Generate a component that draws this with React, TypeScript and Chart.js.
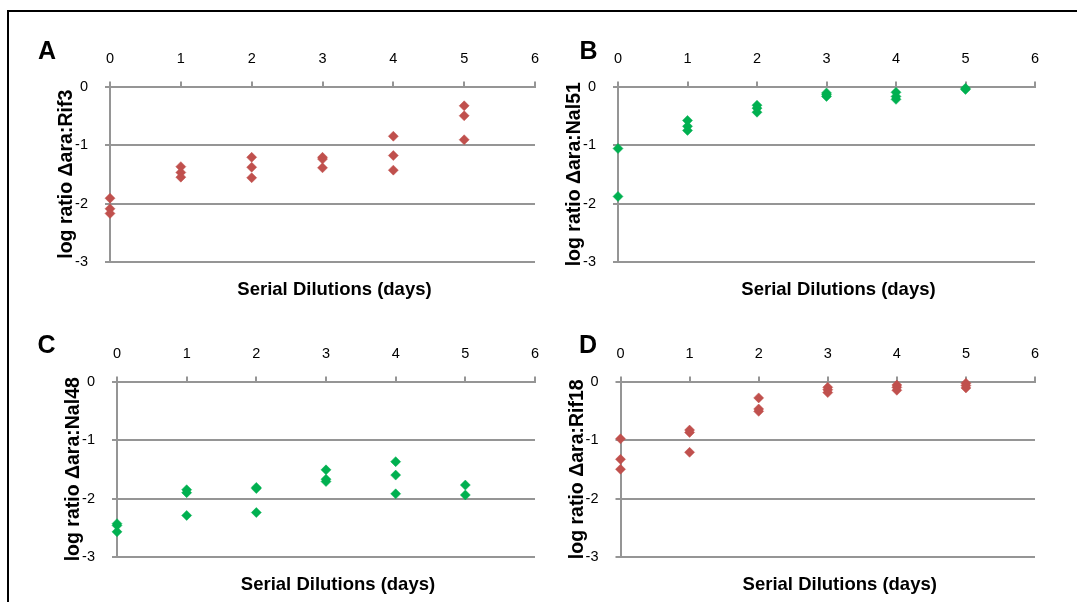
import React, { useEffect, useRef } from "react";
import { Chart, registerables } from "chart.js";

Chart.register(...registerables);

// ---- data ----
const days = [0, 1, 2, 3, 4, 5];
const xTitle = "Serial Dilutions (days)";
const panelLetters = ["A", "B", "C", "D"];
const yTitles = [
  "log ratio Δara:Rif3",
  "log ratio Δara:Nal51",
  "log ratio Δara:Nal48",
  "log ratio Δara:Rif18",
];

const rif3 = [
  [-1.91, -2.09, -2.17],
  [-1.37, -1.47, -1.55],
  [-1.21, -1.38, -1.56],
  [-1.21, -1.24, -1.39],
  [-0.85, -1.18, -1.43],
  [-0.33, -0.5, -0.91],
];
const nal51 = [
  [-1.06, -1.88],
  [-0.58, -0.68, -0.75],
  [-0.32, -0.37, -0.44],
  [-0.11, -0.14, -0.17],
  [-0.1, -0.17, -0.22],
  [-0.03, -0.05],
];
const nal48 = [
  [-2.43, -2.46, -2.57],
  [-1.85, -1.9, -2.29],
  [-1.81, -1.83, -2.24],
  [-1.51, -1.67, -1.71],
  [-1.37, -1.6, -1.92],
  [-1.77, -1.94],
];
const rif18 = [
  [-0.98, -1.33, -1.5],
  [-0.83, -0.87, -1.21],
  [-0.28, -0.47, -0.51],
  [-0.1, -0.14, -0.19],
  [-0.06, -0.1, -0.15],
  [-0.03, -0.07, -0.11],
];

const RED = "#C0504D";
const GREEN = "#00B050";
const GRID = "#959595";
const FAMILY = "'Liberation Sans', Arial, Helvetica, sans-serif";

type Box = { left: number; top: number; width: number; height: number };
type Plot = { left: number; top: number; right: number; bottom: number };
type PanelCfg = {
  letter: string;
  letterPos: [number, number];
  yTitle: string;
  values: number[][];
  color: string;
  box: Box;
  plot: Plot;
};

const panels: PanelCfg[] = [
  {
    letter: panelLetters[0],
    letterPos: [47, 52.5],
    yTitle: yTitles[0],
    values: rif3,
    color: RED,
    box: { left: 30, top: 30, width: 530, height: 275 },
    plot: { left: 110, top: 86.5, right: 535, bottom: 262 },
  },
  {
    letter: panelLetters[1],
    letterPos: [588.5, 52.5],
    yTitle: yTitles[1],
    values: nal51,
    color: GREEN,
    box: { left: 560, top: 30, width: 500, height: 275 },
    plot: { left: 618, top: 86.5, right: 1035, bottom: 262 },
  },
  {
    letter: panelLetters[2],
    letterPos: [46.5, 346],
    yTitle: yTitles[2],
    values: nal48,
    color: GREEN,
    box: { left: 30, top: 325, width: 530, height: 275 },
    plot: { left: 117, top: 381.5, right: 535, bottom: 557 },
  },
  {
    letter: panelLetters[3],
    letterPos: [588, 346],
    yTitle: yTitles[3],
    values: rif18,
    color: RED,
    box: { left: 560, top: 325, width: 500, height: 275 },
    plot: { left: 620.5, top: 381.5, right: 1035, bottom: 557 },
  },
];

const panelTextPlugin = {
  id: "panelText",
  afterDraw(chart: any, _args: any, opts: any) {
    const { ctx, chartArea } = chart;
    ctx.save();
    ctx.fillStyle = "#000";
    ctx.textAlign = "center";
    ctx.textBaseline = "middle";
    ctx.font = `bold 25px ${FAMILY}`;
    ctx.fillText(opts.letter, opts.letterX, opts.letterY);
    ctx.font = `bold 18.5px ${FAMILY}`;
    ctx.fillText(
      opts.xTitle,
      (chartArea.left + chartArea.right) / 2 + 12,
      chartArea.bottom + 27.5
    );
    ctx.restore();
  },
};

function Panel({ cfg }: { cfg: PanelCfg }) {
  const ref = useRef<HTMLCanvasElement>(null);
  useEffect(() => {
    const { box, plot } = cfg;
    const yW = plot.left - box.left;
    const xH = plot.top - box.top;
    const padR = box.left + box.width - plot.right;
    const padB = box.top + box.height - plot.bottom;
    const points = cfg.values.flatMap((vals, i) =>
      vals.map((v) => ({ x: days[i], y: v }))
    );
    const chart = new Chart(ref.current as HTMLCanvasElement, {
      type: "scatter",
      data: {
        datasets: [
          {
            data: points,
            pointStyle: "rectRot",
            pointRadius: 5,
            pointBorderWidth: 0.5,
            backgroundColor: cfg.color,
            borderColor: cfg.color,
            clip: false,
          } as any,
        ],
      },
      options: {
        responsive: false,
        animation: false,
        events: [],
        layout: { padding: { left: 0, top: 0, right: padR, bottom: padB } },
        plugins: {
          legend: { display: false },
          tooltip: { enabled: false },
          panelText: {
            letter: cfg.letter,
            letterX: cfg.letterPos[0] - box.left,
            letterY: cfg.letterPos[1] - box.top,
            xTitle,
          },
        } as any,
        scales: {
          x: {
            type: "linear",
            position: "top",
            min: 0,
            max: 6,
            afterFit: (s: any) => {
              s.height = xH;
            },
            ticks: {
              stepSize: 1,
              color: "#000",
              padding: 14,
              font: { family: FAMILY, size: 14.5 },
            },
            grid: {
              drawOnChartArea: false,
              color: GRID,
              lineWidth: 2,
              tickLength: 5,
            },
            border: { display: true, color: GRID, width: 2 },
          },
          y: {
            type: "linear",
            min: -3,
            max: 0,
            afterFit: (s: any) => {
              s.width = yW;
            },
            ticks: {
              stepSize: 1,
              color: "#000",
              padding: 17,
              font: { family: FAMILY, size: 14.5 },
            },
            grid: { color: GRID, lineWidth: 2, tickLength: 5 },
            border: { display: true, color: GRID, width: 2 },
            title: {
              display: true,
              text: cfg.yTitle,
              color: "#000",
              font: { family: FAMILY, size: 19.5, weight: "bold" },
              padding: { top: yW - 43 - 11.7, bottom: 0 },
            },
          },
        } as any,
      },
      plugins: [panelTextPlugin as any],
    });
    return () => chart.destroy();
  }, [cfg]);

  return (
    <canvas
      ref={ref}
      width={cfg.box.width}
      height={cfg.box.height}
      style={{
        position: "absolute",
        left: cfg.box.left,
        top: cfg.box.top,
        width: cfg.box.width,
        height: cfg.box.height,
      }}
    />
  );
}

export default function App() {
  return (
    <div
      style={{
        position: "fixed",
        left: 0,
        top: 0,
        width: 1077,
        height: 602,
        overflow: "hidden",
        background: "#fff",
      }}
    >
      <div
        style={{
          position: "absolute",
          left: 7,
          top: 10,
          width: 1200,
          height: 700,
          borderLeft: "2px solid #000",
          borderTop: "2px solid #000",
        }}
      />
      {panels.map((p) => (
        <Panel key={p.letter} cfg={p} />
      ))}
    </div>
  );
}
